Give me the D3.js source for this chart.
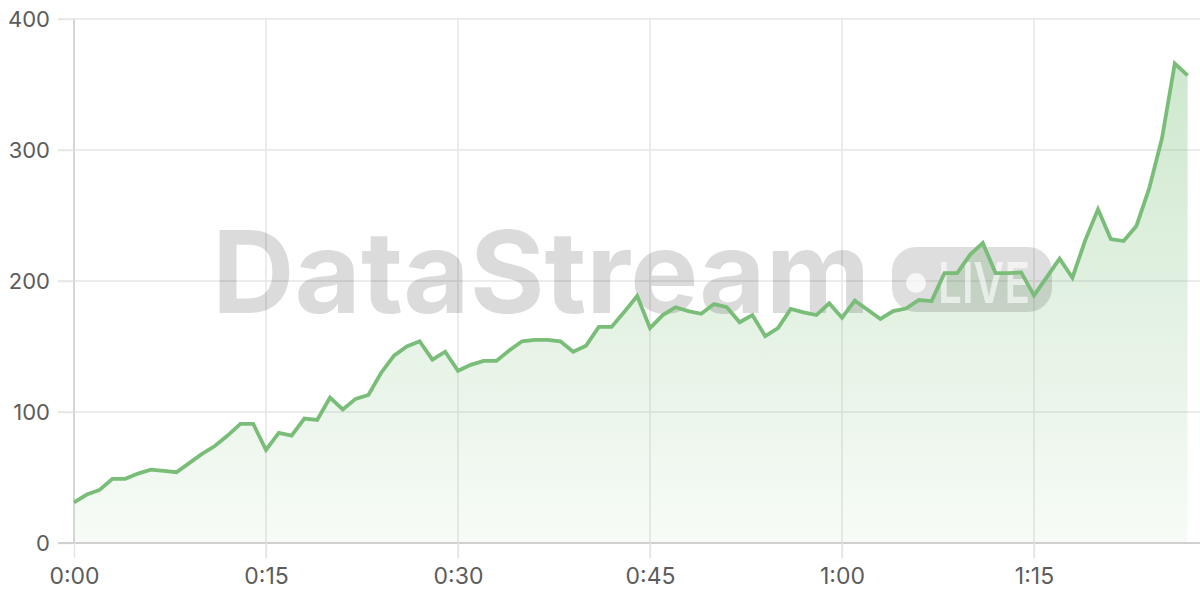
<!DOCTYPE html>
<html>
<head>
<meta charset="utf-8">
<script src="https://cdn.jsdelivr.net/npm/d3@7"></script>
<style>
  html, body { margin: 0; padding: 0; background: #fff; }
  svg { display: block; }
</style>
</head>
<body>
<svg id="chart" width="1200" height="600"></svg>
<script>
// Data (minutes from start, value)
const values = [31,37,40.5,49,49,53,56,55,54,61,
  68,74,82,91,91,71,84,82,95,94,
  111,102,110,113,130,143,150,154,140,146,
  131.5,136,139,139,147,154,155,155,154,146,
  150.6,165,165,176.6,188.5,164,174,180,177,175,
  182.4,180,168.5,174,158,164,178.6,176,174,183,
  172,185,178,171,177,179,185.5,184.7,206,206,
  220,229,206,206,206.6,189,203,217,202.5,231,
  254.7,232,230.5,242,270.7,309,366,357];
const xTickValues = [0, 15, 30, 45, 60, 75];
const xTickLabels = ["0:00", "0:15", "0:30", "0:45", "1:00", "1:15"];
const yTickValues = [0, 100, 200, 300, 400];

const svg = d3.select("#chart");
const x = d3.scaleLinear().domain([0, values.length - 1]).range([74, 1187.6]);
const y = d3.scaleLinear().domain([0, 400]).range([543, 19]);

const font = "Inter, 'Noto Sans', sans-serif";

// gradient
const defs = svg.append("defs");
const grad = defs.append("linearGradient").attr("id", "fillGrad")
  .attr("x1", 0).attr("y1", 0).attr("x2", 0).attr("y2", 1);
grad.append("stop").attr("offset", "0%").attr("stop-color", "rgb(120,190,120)").attr("stop-opacity", 0.36);
grad.append("stop").attr("offset", "100%").attr("stop-color", "rgb(120,190,120)").attr("stop-opacity", 0.06);

// horizontal grid
svg.append("g").selectAll("line").data(yTickValues.filter(d => d > 0)).join("line")
  .attr("x1", 58).attr("x2", 1200)
  .attr("y1", d => y(d)).attr("y2", d => y(d))
  .attr("stroke", "#e6e6e6").attr("stroke-width", 1.5);
// vertical grid
svg.append("g").selectAll("line").data(xTickValues.filter(d => d > 0)).join("line")
  .attr("x1", d => x(d)).attr("x2", d => x(d))
  .attr("y1", 19).attr("y2", 558)
  .attr("stroke", "#e6e6e6").attr("stroke-width", 1.5);

// area
const area = d3.area().x((d, i) => x(i)).y0(y(0)).y1(d => y(d));
svg.append("path").datum(values).attr("d", area).attr("fill", "url(#fillGrad)");

// watermark
const wm = svg.append("g").attr("pointer-events", "none");
wm.append("text").attr("x", 212).attr("y", 313)
  .attr("font-family", font).attr("font-weight", 700).attr("font-size", 114)
  .attr("textLength", 658).attr("lengthAdjust", "spacingAndGlyphs")
  .attr("fill", "rgba(0,0,0,0.14)").text("DataStream");
wm.append("rect").attr("x", 892).attr("y", 247).attr("width", 160).attr("height", 65)
  .attr("rx", 24).attr("fill", "rgba(0,0,0,0.13)");
wm.append("circle").attr("cx", 916).attr("cy", 283).attr("r", 10).attr("fill", "rgba(255,255,255,0.75)");
wm.append("text").attr("x", 938).attr("y", 302.5)
  .attr("font-family", font).attr("font-weight", 600).attr("font-size", 56)
  .attr("textLength", 92).attr("lengthAdjust", "spacingAndGlyphs")
  .attr("fill", "rgba(255,255,255,0.6)").text("LIVE");

// axes
const yAxis = d3.axisLeft(y).tickValues(yTickValues).tickSize(16).tickPadding(8);
const gy = svg.append("g").attr("transform", "translate(74,0)").call(yAxis);
gy.select(".domain").attr("stroke", "#d6d6d6").attr("stroke-width", 2).attr("d", "M0,19V543");
gy.selectAll(".tick line").attr("stroke", "#e6e6e6").attr("stroke-width", 1.5);
gy.selectAll(".tick text").attr("font-family", font).attr("font-size", 22).attr("fill", "#5c5c5c");

const xAxis = d3.axisBottom(x).tickValues(xTickValues).tickFormat((d, i) => xTickLabels[i]).tickSize(15).tickPadding(10);
const gx = svg.append("g").attr("transform", "translate(0,543)").call(xAxis);
gx.select(".domain").attr("stroke", "#d0d0d0").attr("stroke-width", 2).attr("d", "M58,0H1200");
gx.selectAll(".tick line").attr("stroke", "#e6e6e6").attr("stroke-width", 1.5);
gx.selectAll(".tick text").attr("font-family", font).attr("font-size", 23).attr("fill", "#5c5c5c");

// line
const line = d3.line().x((d, i) => x(i)).y(d => y(d));
svg.append("path").datum(values).attr("d", line)
  .attr("fill", "none").attr("stroke", "#79bd79").attr("stroke-width", 3.8)
  .attr("stroke-linejoin", "miter").attr("stroke-linecap", "butt");
</script>
</body>
</html>
